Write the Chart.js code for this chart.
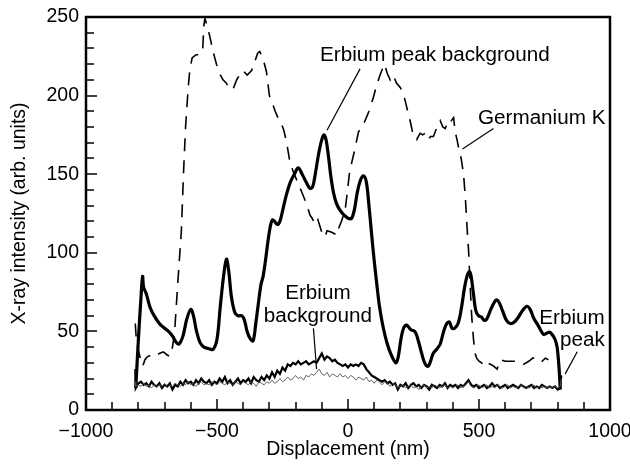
<!DOCTYPE html>
<html>
<head>
<meta charset="utf-8">
<script src="https://cdn.jsdelivr.net/npm/chart.js@4/dist/chart.umd.min.js"></script>
<style>
html,body{margin:0;padding:0;background:#fff;}
#wrap{width:630px;height:468px;}
</style>
</head>
<body>
<div id="wrap"><canvas id="c" width="630" height="468"></canvas></div>
<script>
// ---- Data ----
const xTicks = [-1000, -500, 0, 500, 1000];
const yTicks = [0, 50, 100, 150, 200, 250];

// Thick smooth curve
const smoothX = [-810,-800,-790,-784,-780,-770,-755,-740,-720,-700,-685,-670,-655,-645,-630,-615,-600,-590,-578,-565,-550,-530,-515,-500,-488,-475,-464,-455,-445,-432,-420,-405,-395,-385,-372,-362,-352,-342,-332,-324,-315,-305,-295,-288,-280,-270,-260,-248,-235,-220,-205,-190,-175,-160,-145,-135,-125,-112,-100,-92,-84,-75,-65,-55,-43,-30,-15,0,14,25,35,47,59,70,80,90,100,110,120,135,150,165,177,184,192,202,212,224,240,255,265,278,290,300,307,315,325,340,352,365,377,387,397,407,420,432,445,456,464,470,478,488,498,510,520,530,545,560,569,578,590,605,620,635,650,665,683,695,710,725,738,747,760,770,779,790,798,804,808,810];
const smoothY = [14,45,72,85,78,74,65,60,55,52,50,47,43,42,47,58,64,60,50,43,40,39,38.5,45,65,85,96,88,72,62,60,60,57,50,45,44,55,68,80,85,95,108,118,121,120,118,120,128,137,145,150,154,150,145,141,142,150,163,172,175,172,162,148,138,131,127,124,122,122,128,138,146,149,145,130,112,95,80,66,52,42,35,31,30,34,45,52,54,51,50,46,38,31,28,28,31,36,39,42,50,55,56,52,52,55,64,78,86,88,85,75,63,60,59,57,58,64,69,70,68,63,57,55,56,59,63,66,64,58,54,50,48,49,49.5,48,45,40,30,20,13];

// Germanium K (dashed)
const geX = [-812,-808,-800,-790,-783,-775,-765,-750,-735,-720,-705,-690,-680,-670,-662,-650,-636,-628,-620,-610,-604,-595,-580,-565,-555,-550,-546,-535,-528,-515,-502,-490,-477,-465,-450,-439,-425,-410,-400,-385,-368,-355,-345,-337,-325,-311,-300,-290,-278,-265,-254,-245,-234,-222,-210,-200,-190,-175,-158,-145,-137,-125,-115,-100,-88,-80,-62,-50,-43,-35,-25,-11,-3,5,15,25,40,55,65,80,97,110,122,129,140,150,161,173,185,200,212,225,237,250,262,275,285,294,305,315,326,340,352,362,371,382,390,403,409,416,422,432,441,448,454,460,466,472,479,485,491,500,510,517,530,545,555,569,581,600,620,645,660,670,690,705,722,730,741,753,765];
const geY = [55,45,38,31,28,32,34,35,34,36,37,35,34,40,49,80,114,150,180,205,216,224,226,226,228,245,249,243,238,228,220,214,210,208,204,204,210,214,216,213,216,222,227,228,224,215,200,196,190,185,182,178,170,158,152,148,144,138,131,124,122,118,121,113,110,114,113,112,111,116,120,127,138,150,158,165,177,180,184,190,199,207,213,216,220,214,210,213,208,205,201,192,184,174,172,176,175,176,172,174,174,180,184,180,179,184,183,186,177,172,167,160,150,135,117,102,80,60,45,36,33,31,30,28,30,29,28,26,32,31,31,31,30,29,31,33,33,31,31,33,32];

// Noisy traces
const noisyX = [-812,-810,
-800,-790,-780,-770,-760,-750,-740,-730,-720,-710,
-700,-690,-680,-670,-660,-650,-640,-630,-620,-610,
-600,-590,-580,-570,-560,-550,-540,-530,-520,-510,
-500,-490,-480,-470,-460,-450,-440,-430,-420,-410,
-400,-390,-380,-370,-360,-350,-340,-330,-320,-310,
-300,-290,-280,-270,-260,-250,-240,-230,-220,-210,
-200,-190,-180,-170,-160,-150,-140,-130,-120,-110,
-100,-90,-80,-70,-60,-50,-40,-30,-20,-10,
0,10,20,30,40,50,60,70,80,90,
100,110,120,130,140,150,160,170,180,190,
200,210,220,230,240,250,260,270,280,290,
300,310,320,330,340,350,360,370,380,390,
400,410,420,430,440,450,460,470,480,490,
500,510,520,530,540,550,560,570,580,590,
600,610,620,630,640,650,660,670,680,690,
700,710,720,730,740,750,760,770,780,790,
800,810,814];
const erbiumPeak = [26,14,
17,18,16,17,15,18,16,15,17,14,
16,15,17,13,16,15,18,16,19,17,
18,16,19,17,20,18,17,19,16,18,
17,20,18,21,17,19,16,18,20,17,
19,18,20,17,21,19,18,21,19,22,
20,24,21,25,23,27,25,29,28,30,
29,31,29,30,31,29,30,31,30,33,
36,32,34,33,31,32,30,29,28,29,
27,29,28,29,28,30,29,26,24,22,
21,20,19,18,19,17,18,16,17,13,
16,15,17,14,16,17,15,16,14,16,
15,13,16,15,14,16,15,17,14,16,
15,16,14,16,15,17,19,16,15,16,
14,15,16,14,15,17,15,16,14,15,
16,14,15,16,15,14,16,15,14,15,
16,14,15,14,16,15,14,15,14,15,
13,14,22];
const erbiumBackground = [18,15,
16,15,17,15,16,14,16,15,16,15,
17,14,16,15,17,16,15,17,16,18,
16,17,15,17,18,16,17,16,18,17,
16,18,17,16,18,17,16,18,17,16,
18,17,16,18,17,15,18,17,16,18,
17,19,17,18,20,18,19,21,19,20,
22,20,21,19,22,21,23,22,24,26,
23,22,24,21,23,22,21,23,21,22,
20,22,21,19,21,20,19,21,18,19,
17,19,18,16,18,17,15,17,16,14,
15,16,14,15,16,14,15,13,15,16,
14,15,14,16,15,14,15,16,14,15,
14,15,16,14,15,16,18,15,14,15,
16,14,15,16,14,15,14,16,15,14,
15,16,14,15,14,15,16,14,15,14,
15,16,14,15,14,15,14,15,14,15,
14,15,20];

// Annotation labels
const labelTexts = ["Erbium peak background", "Germanium K", ["Erbium", "background"], ["Erbium", "peak"]];

// ---- Build ----
const pts = (xs, ys) => xs.map((x, i) => ({x: x, y: ys[i]}));
const FONT = '"Liberation Sans", Arial, Helvetica, sans-serif';

// label layout in data coords: text anchor, align, leader line endpoints
const labelLayout = [
  {tx: -107, ty: 222, align: 'left', leader: [[46, 217], [-80, 178]]},
  {tx: 496, ty: 182, align: 'left', leader: [[555, 179], [437, 166]]},
  {tx: -115, ty: 70.5, align: 'center', lh: 23, leader: [[-132, 52], [-120, 26]]},
  {tx: 980, ty: 54.5, align: 'right', lh: 22, leader: [[875, 37], [829, 23]]}
];

const framePlugin = {
  id: 'frame',
  afterDraw(chart) {
    const ctx = chart.ctx, a = chart.chartArea;
    const xs = chart.scales.x, ys = chart.scales.y;
    ctx.save();
    ctx.strokeStyle = '#000';
    ctx.lineWidth = 1.5;
    for (let v = -1000; v <= 1000; v += 100) {
      const px = Math.round(xs.getPixelForValue(v));
      const len = (v % 500 === 0) ? 11 : 8;
      ctx.beginPath(); ctx.moveTo(px, a.bottom); ctx.lineTo(px, a.bottom - len); ctx.stroke();
    }
    for (let v = 0; v <= 250; v += 10) {
      const py = Math.round(ys.getPixelForValue(v));
      const len = (v % 50 === 0) ? 11 : 8;
      ctx.beginPath(); ctx.moveTo(a.left, py); ctx.lineTo(a.left + len, py); ctx.stroke();
    }
    ctx.lineWidth = 2.5;
    ctx.strokeRect(a.left, a.top, a.right - a.left, a.bottom - a.top);
    ctx.fillStyle = '#000';
    ctx.font = '19.5px ' + FONT;
    ctx.textBaseline = 'alphabetic';
    labelTexts.forEach((t, i) => {
      const L = labelLayout[i];
      const lines = Array.isArray(t) ? t : [t];
      const x0 = xs.getPixelForValue(L.tx), y0 = ys.getPixelForValue(L.ty);
      lines.forEach((s, j) => {
        ctx.save();
        ctx.translate(x0, y0 + j * (L.lh || 0));
        ctx.scale(1.06, 1);
        ctx.textAlign = L.align;
        ctx.fillText(s, 0, 0);
        ctx.restore();
      });
      ctx.lineWidth = 1.2;
      ctx.beginPath();
      ctx.moveTo(xs.getPixelForValue(L.leader[0][0]), ys.getPixelForValue(L.leader[0][1]));
      ctx.lineTo(xs.getPixelForValue(L.leader[1][0]), ys.getPixelForValue(L.leader[1][1]));
      ctx.stroke();
    });
    ctx.restore();
  }
};

const fmt = v => String(v).replace('-', '\u2212');

new Chart(document.getElementById('c'), {
  type: 'line',
  data: {
    datasets: [
      {label: 'Erbium background', data: pts(noisyX, erbiumBackground), borderColor: '#555', borderWidth: 0.9, pointRadius: 0, tension: 0},
      {label: 'Erbium peak', data: pts(noisyX, erbiumPeak), borderColor: '#000', borderWidth: 2.2, pointRadius: 0, tension: 0},
      {label: 'Germanium K', data: pts(geX, geY), borderColor: '#000', borderWidth: 1.6, borderDash: [13, 9], pointRadius: 0, tension: 0},
      {label: 'Erbium peak background', data: pts(smoothX, smoothY), borderColor: '#000', borderWidth: 3.2, pointRadius: 0, tension: 0.35, borderJoinStyle: 'round'}
    ]
  },
  options: {
    responsive: false,
    animation: false,
    devicePixelRatio: 1,
    layout: {padding: {top: 17, right: 20, left: 0, bottom: 0}},
    plugins: {legend: {display: false}, tooltip: {enabled: false}},
    scales: {
      x: {
        type: 'linear', min: -1000, max: 1000,
        afterBuildTicks: s => { s.ticks = xTicks.map(v => ({value: v})); },
        afterFit: s => { s.height = 58; s.paddingLeft = 0; s.paddingRight = 0; },
        grid: {display: false, drawTicks: false},
        border: {display: false},
        ticks: {padding: 10, color: '#000', font: {family: FONT, size: 19.5}, callback: fmt, maxRotation: 0, autoSkip: false},
        title: {display: true, text: 'Displacement (nm)', color: '#000', font: {family: FONT, size: 19.5}, padding: {top: 0, bottom: 7}}
      },
      y: {
        min: 0, max: 250,
        afterBuildTicks: s => { s.ticks = yTicks.map(v => ({value: v})); },
        afterFit: s => { s.width = 86; s.paddingTop = 0; s.paddingBottom = 0; },
        grid: {display: false, drawTicks: false},
        border: {display: false},
        ticks: {padding: 7, color: '#000', font: {family: FONT, size: 19.5}, callback: fmt, autoSkip: false},
        title: {display: true, text: 'X-ray intensity (arb. units)', color: '#000', font: {family: FONT, size: 19.5}, padding: {top: 8, bottom: 0}}
      }
    }
  },
  plugins: [framePlugin]
});
</script>
</body>
</html>
